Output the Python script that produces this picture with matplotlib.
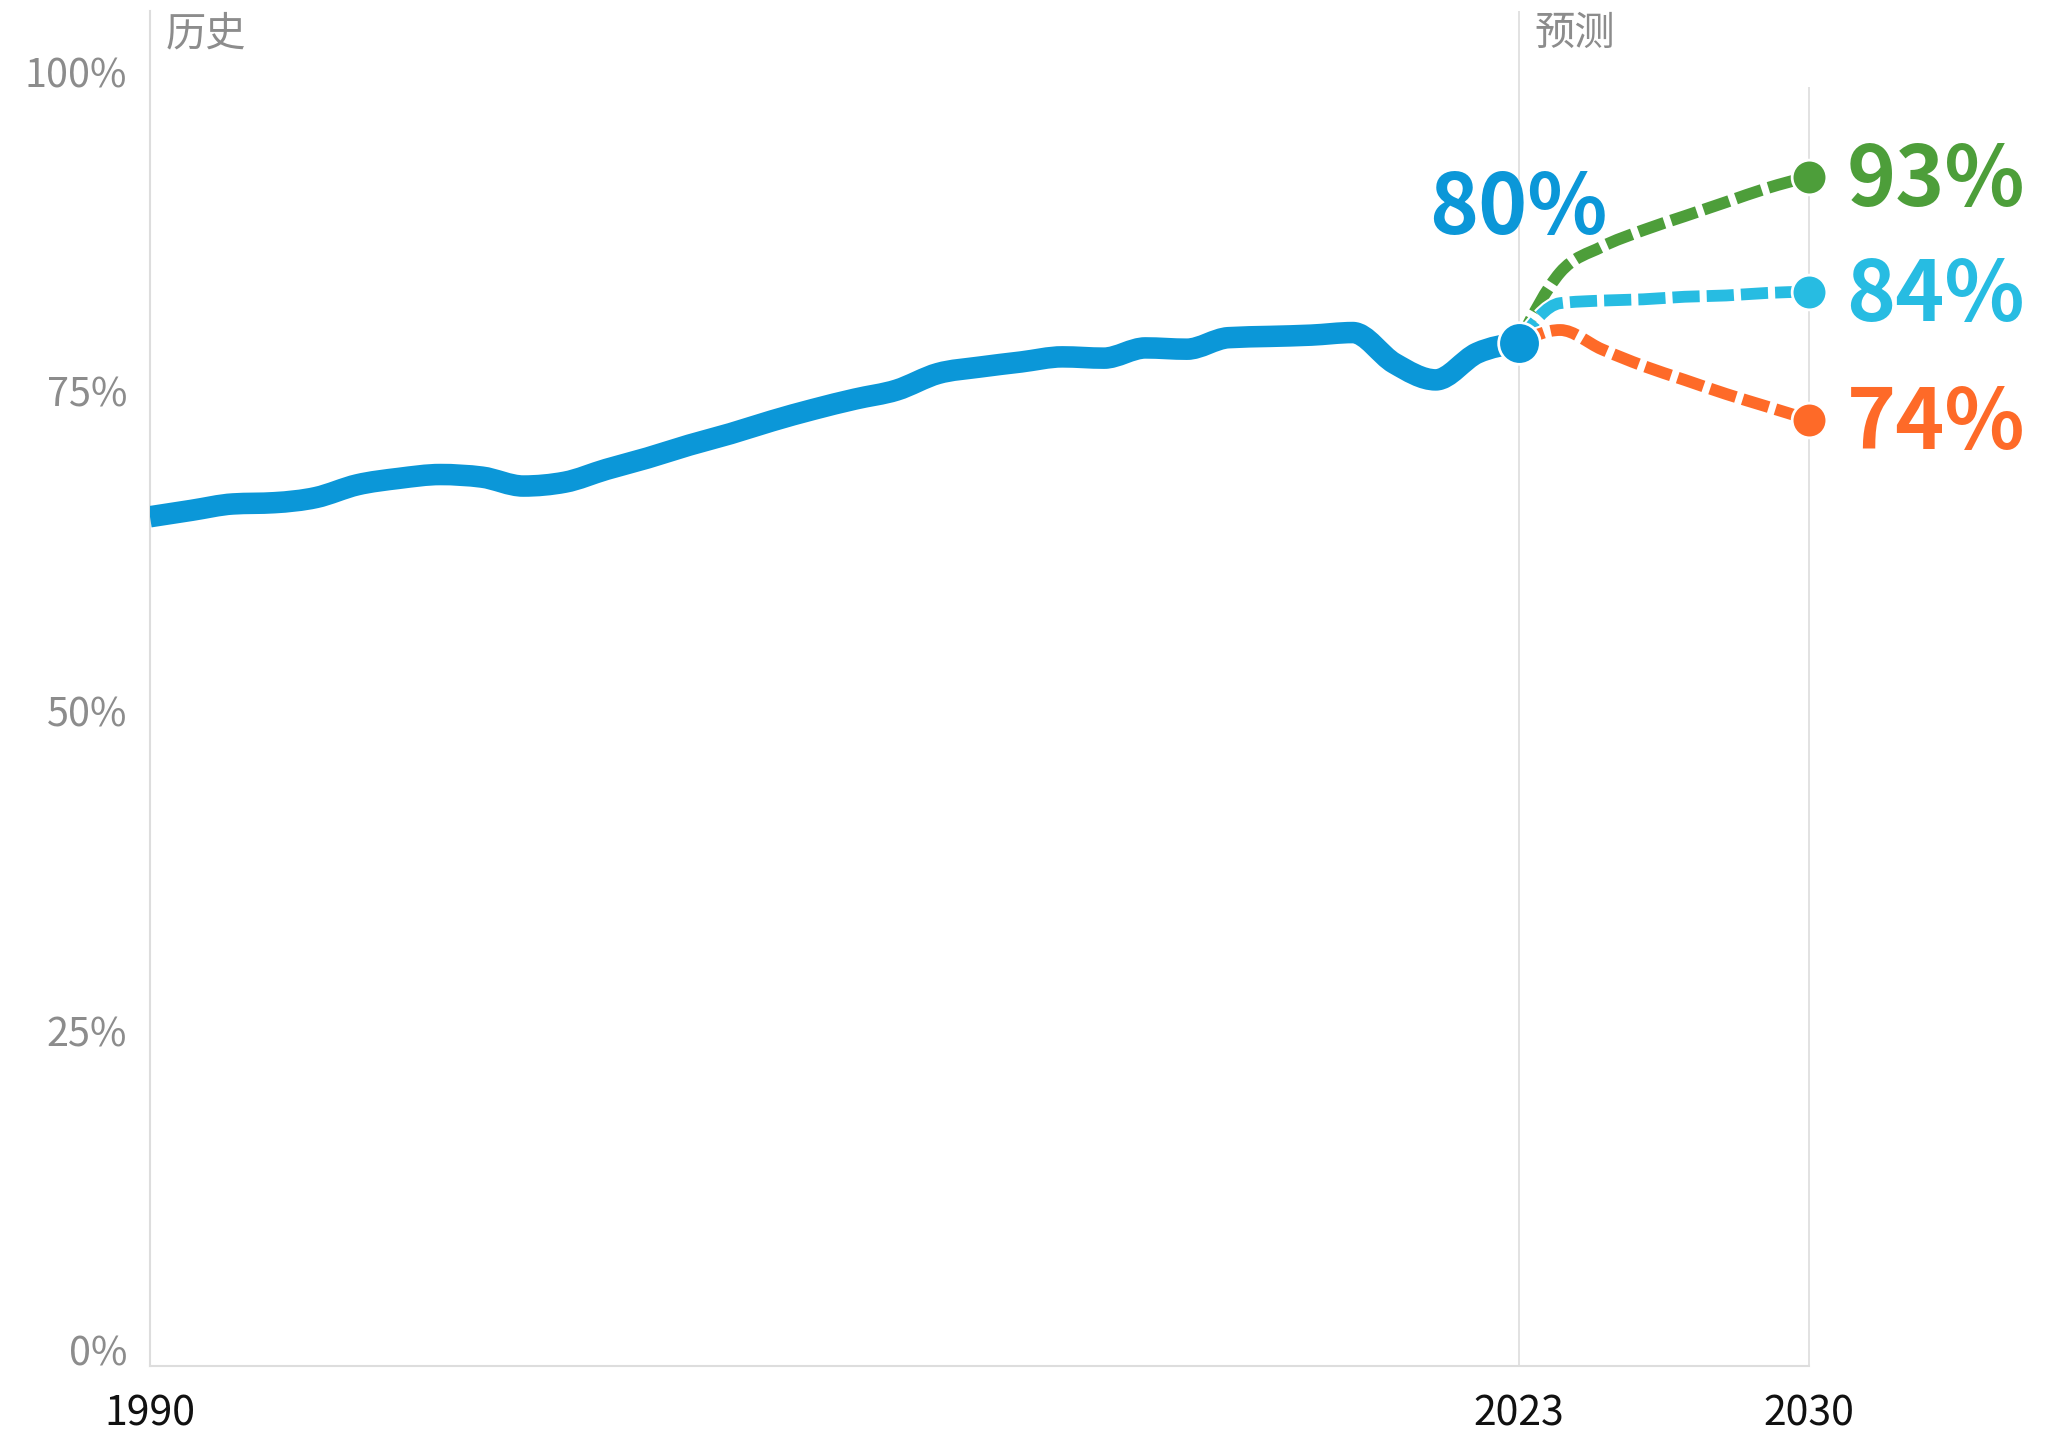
import numpy as np
import matplotlib
matplotlib.use("Agg")
import matplotlib.pyplot as plt
from matplotlib.path import Path
from matplotlib.patches import PathPatch
import matplotlib.patheffects as pe

plt.rcParams['font.family'] = ['Noto Sans CJK SC', 'DejaVu Sans']

# ---- data -------------------------------------------------------------
hist_years = list(range(1990, 2024))
hist_share = [66.4, 66.9, 67.4, 67.5, 67.9, 68.9, 69.4, 69.7, 69.5, 68.8,
              69.1, 70.1, 71.0, 72.0, 72.9, 73.9, 74.8, 75.6, 76.3, 77.6,
              78.1, 78.5, 78.9, 78.8, 79.6, 79.5, 80.4, 80.5, 80.6, 80.8,
              78.4, 77.1, 79.2, 80.0]

proj_years = list(range(2023, 2031))
proj_high = [80.0, 85.5, 87.5, 88.8, 89.9, 91.0, 92.1, 93.0]
proj_mid = [80.0, 83.1, 83.3, 83.4, 83.6, 83.7, 83.9, 84.0]
proj_low = [80.0, 81.0, 79.5, 78.2, 77.1, 76.0, 75.0, 74.0]

y_ticks = [0, 25, 50, 75, 100]
y_tick_labels = ['0%', '25%', '50%', '75%', '100%']
x_ticks = [1990, 2023, 2030]
x_tick_labels = ['1990', '2023', '2030']
period_labels = ['历史', '预测']

# ---- style ------------------------------------------------------------
C_HIST = '#0b97d8'
C_HIGH = '#4d9e3a'
C_MID = '#27bce2'
C_LOW = '#fe6a28'
C_GRID = '#dddddd'
C_MUTED = '#8c8c8c'


def monotone_path(xs, ys):
    """Cubic Bezier path with monotone (Steffen) tangents through the points."""
    xs = np.asarray(xs, float)
    ys = np.asarray(ys, float)
    n = len(xs)
    h = np.diff(xs)
    s = np.diff(ys) / h
    t = np.zeros(n)
    for i in range(1, n - 1):
        p = (s[i - 1] * h[i] + s[i] * h[i - 1]) / (h[i - 1] + h[i])
        t[i] = (np.sign(s[i - 1]) + np.sign(s[i])) * min(abs(s[i - 1]), abs(s[i]), 0.5 * abs(p))
    if n > 2:
        t[0] = (3 * s[0] - t[1]) / 2
        t[-1] = (3 * s[-1] - t[-2]) / 2
    else:
        t[0] = t[-1] = s[0]
    verts = [(xs[0], ys[0])]
    codes = [Path.MOVETO]
    for i in range(n - 1):
        dx = h[i] / 3
        verts += [(xs[i] + dx, ys[i] + dx * t[i]),
                  (xs[i + 1] - dx, ys[i + 1] - dx * t[i + 1]),
                  (xs[i + 1], ys[i + 1])]
        codes += [Path.CURVE4] * 3
    return Path(verts, codes)


W, H = 2064, 1435
fig = plt.figure(figsize=(W / 100, H / 100), dpi=100)
left, right, bottom, top = 150, 1809, 1366, 11
ax = fig.add_axes([left / W, (H - bottom) / H, (right - left) / W, (bottom - top) / H])

ax.set_xlim(1990, 2030)
ax.set_ylim(0, 100 * (bottom - top) / (bottom - 87))

for side in ['top', 'right']:
    ax.spines[side].set_visible(False)
for side in ['left', 'bottom']:
    ax.spines[side].set_color(C_GRID)
    ax.spines[side].set_linewidth(1.5)

# period divider and end-year guide
ax.axvline(2023, color=C_GRID, lw=1.2, zorder=1)
ax.vlines(2030, 0, 100, color=C_GRID, lw=1.2, zorder=1, clip_on=False)

# history line
ax.add_patch(PathPatch(monotone_path(hist_years, hist_share), fill=False,
                       edgecolor=C_HIST, lw=15.5, capstyle='butt',
                       joinstyle='round', zorder=3))

# scenario lines
outline = [pe.Stroke(linewidth=11.5, foreground='white'), pe.Normal()]
for vals, col, z in [(proj_high, C_HIGH, 4), (proj_mid, C_MID, 4.1), (proj_low, C_LOW, 4.2)]:
    patch = PathPatch(monotone_path(proj_years, vals), fill=False,
                      edgecolor=col, lw=8.5, linestyle=(0, (2.3, 0.6)),
                      capstyle='butt', joinstyle='round', zorder=z)
    patch.set_path_effects(outline)
    ax.add_patch(patch)

# endpoint markers and value labels
ax.plot([hist_years[-1]], [hist_share[-1]], 'o', ms=30, color=C_HIST,
        mec='white', mew=2, zorder=6, clip_on=False)
ax.annotate(f'{hist_share[-1]:.0f}%', xy=(hist_years[-1], hist_share[-1]),
            xytext=(0, 78), textcoords='offset points', ha='center', va='baseline',
            fontsize=60, fontweight='bold', color=C_HIST, annotation_clip=False)

for vals, col in [(proj_high, C_HIGH), (proj_mid, C_MID), (proj_low, C_LOW)]:
    ax.plot([proj_years[-1]], [vals[-1]], 'o', ms=25, color=col,
            mec='white', mew=2, zorder=6, clip_on=False)
    ax.annotate(f'{vals[-1]:.0f}%', xy=(proj_years[-1], vals[-1]),
                xytext=(27, -21), textcoords='offset points', ha='left', va='baseline',
                fontsize=60, fontweight='bold', color=col, annotation_clip=False)

# period captions
for x0, txt in zip([1990, 2023], period_labels):
    ax.annotate(txt, xy=(x0, 1.0), xycoords=('data', 'axes fraction'),
                xytext=(11, -1.5), textcoords='offset points', ha='left', va='top',
                fontsize=29, color=C_MUTED)

# axes ticks
ax.set_yticks(y_ticks)
ax.set_yticklabels(y_tick_labels)
ax.set_xticks(x_ticks)
ax.set_xticklabels(x_tick_labels)
ax.tick_params(axis='y', length=0, pad=16.5, labelsize=28.5, labelcolor=C_MUTED)
ax.tick_params(axis='x', length=0, pad=20, labelsize=29.5, labelcolor='#111111')
for lbl in ax.get_yticklabels():
    lbl.set_va('baseline')

fig.savefig('out.png', dpi=100, facecolor='white')
